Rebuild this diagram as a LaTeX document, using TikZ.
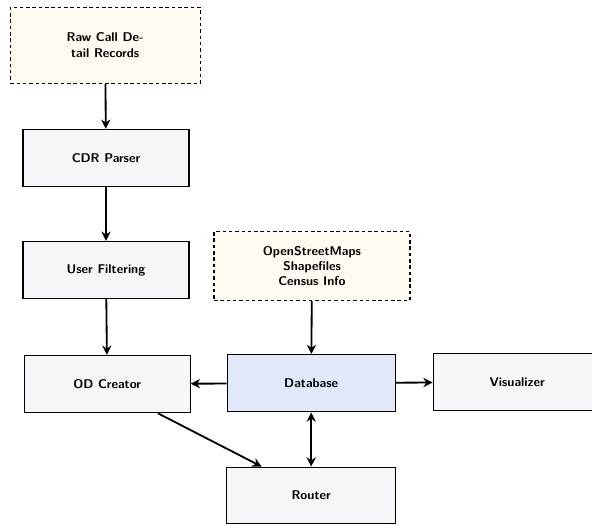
\documentclass[tikz,border=0pt]{standalone}
\usetikzlibrary{arrows.meta}
\definecolor{srcfill}{RGB}{254,250,240}
\definecolor{procfill}{RGB}{244,246,249}
\definecolor{dbfill}{RGB}{226,231,250}
\begin{document}
\begin{tikzpicture}[
  font=\sffamily\bfseries\small,
  box/.style={draw, line width=0.9pt, minimum width=4.15cm, minimum height=1.43cm, align=center, fill=procfill},
  srcbox/.style={box, dash pattern=on 2.5pt off 2pt, fill=srcfill},
  flow/.style={line width=1.3pt, -{Stealth[length=2.3mm, width=2.3mm]}}
]
\useasboundingbox (0,0) rectangle (14.8,-13.125);
\node[srcbox, minimum width=4.75cm, minimum height=1.9cm] (raw) at (2.63,-1.13) {Raw Call De-\\tail Records};
\node[box] (cdr) at (2.65,-3.95) {CDR Parser};
\node[box] (filt) at (2.65,-6.75) {User Filtering};
\node[box] (od) at (2.68,-9.6) {OD Creator};
\node[srcbox, minimum width=4.9cm, minimum height=1.73cm] (geo) at (7.8,-6.65) {OpenStreetMaps\\Shapefiles\\Census Info};
\node[box, fill=dbfill, minimum width=4.2cm] (db) at (7.78,-9.58) {Database};
\node[box, minimum width=4.2cm] (vis) at (12.93,-9.55) {Visualizer};
\node[box, minimum width=4.22cm, minimum height=1.4cm] (router) at (7.78,-12.38) {Router};
\draw[flow] (raw) -- (cdr);
\draw[flow] (cdr) -- (filt);
\draw[flow] (filt) -- (od);
\draw[flow] (geo) -- (db);
\draw[flow] (db) -- (od);
\draw[flow] (db) -- (vis);
\draw[flow, {Stealth[length=2.3mm, width=2.3mm]}-{Stealth[length=2.3mm, width=2.3mm]}] (db) -- (router);
\draw[flow] (od.-30) -- (router.150);
\end{tikzpicture}
\end{document}
